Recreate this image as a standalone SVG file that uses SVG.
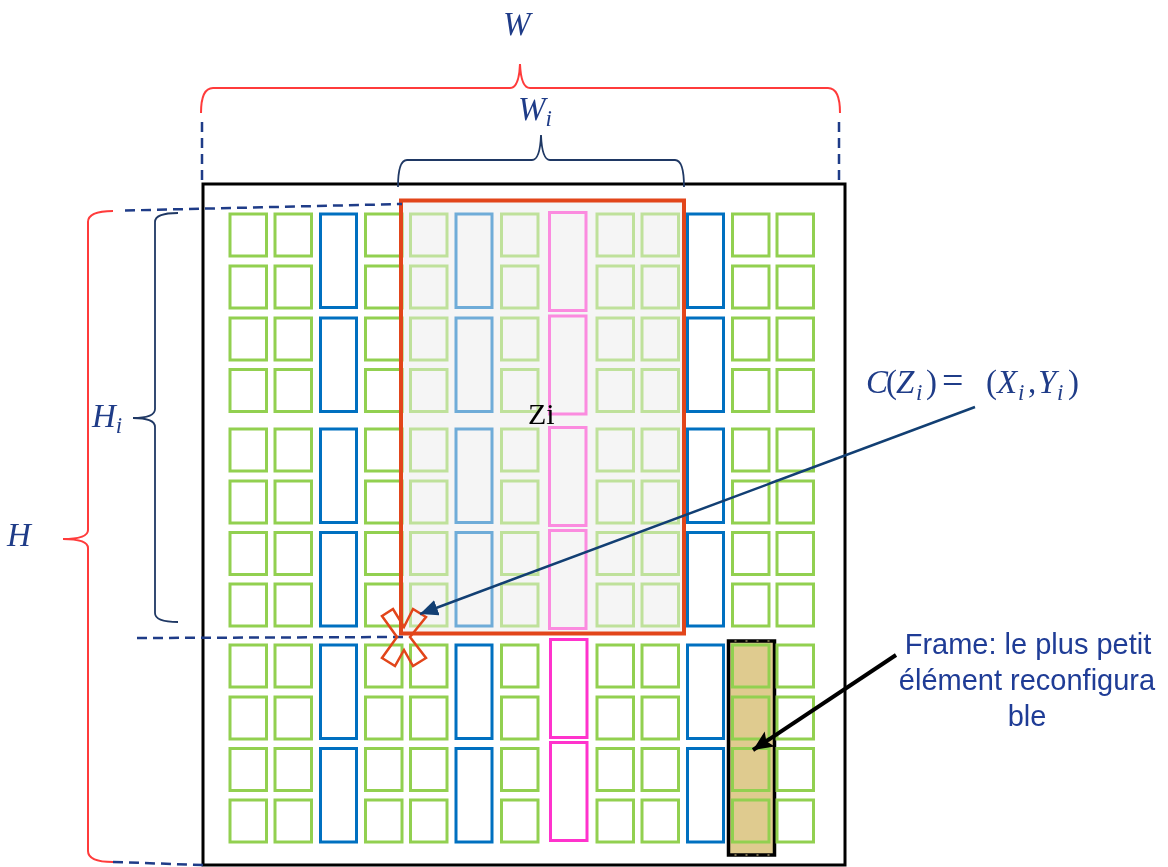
<svg xmlns="http://www.w3.org/2000/svg" xmlns:xlink="http://www.w3.org/1999/xlink" width="1168" height="867" viewBox="0 0 1168 867">
<style>
.g{fill:none;stroke:#92D050;stroke-width:3}
.b{fill:none;stroke:#0070C0;stroke-width:3}
.p{fill:none;stroke:#FF33CC;stroke-width:3}
.f{opacity:0.55}
.dash{fill:none;stroke:#1F3C88;stroke-width:2.5;stroke-dasharray:10 6}
.rb{fill:none;stroke:#FF3B3B;stroke-width:2}
.nb{fill:none;stroke:#1F3864;stroke-width:1.8}
.m{font-family:"Liberation Serif","DejaVu Serif",serif;font-style:italic;font-size:33px;fill:#1F3C88}
.u{font-style:normal}
.lbl{font-family:"Liberation Sans",Arial,sans-serif;font-size:29px;fill:#1F3C96;text-anchor:middle}
</style>
<defs>
<rect id="sq" width="36.5" height="42"/>
<rect id="tl" width="36" height="93.5"/>
<rect id="pk" width="36.5" height="98"/>
<marker id="ahN" markerUnits="userSpaceOnUse" markerWidth="22" markerHeight="18" refX="18" refY="8" orient="auto"><path d="M0,0 L18,8 L0,16 z" fill="#123F73"/></marker>
<marker id="ahK" markerUnits="userSpaceOnUse" markerWidth="24" markerHeight="20" refX="20" refY="9" orient="auto"><path d="M0,0 L20,9 L0,18 L4,9 z" fill="#000"/></marker>
</defs>
<rect width="1168" height="867" fill="#fff"/>
<g id="device"><rect x="203" y="184" width="642" height="681" fill="#fff" stroke="#000" stroke-width="3"/></g>
<g id="zone-bg"><rect x="401" y="200.5" width="283" height="433" fill="#F5F5F5"/></g>
<g id="frame">
<rect x="728.5" y="641" width="46" height="214" fill="#DFCB8F" stroke="#000" stroke-width="3.5"/>
<path d="M728.5,641 H774.5 M728.5,855 H774.5" stroke="#DFCB8F" stroke-width="1.2" stroke-dasharray="2 9" stroke-dashoffset="-6" fill="none"/>
</g>
<g id="block-a">
<g class="g">
<use xlink:href="#sq" x="230" y="214"/><use xlink:href="#sq" x="275" y="214"/><use xlink:href="#sq" x="365.5" y="214"/><use xlink:href="#sq" x="732.5" y="214"/><use xlink:href="#sq" x="777" y="214"/>
<use xlink:href="#sq" x="230" y="266"/><use xlink:href="#sq" x="275" y="266"/><use xlink:href="#sq" x="365.5" y="266"/><use xlink:href="#sq" x="732.5" y="266"/><use xlink:href="#sq" x="777" y="266"/>
<use xlink:href="#sq" x="230" y="318"/><use xlink:href="#sq" x="275" y="318"/><use xlink:href="#sq" x="365.5" y="318"/><use xlink:href="#sq" x="732.5" y="318"/><use xlink:href="#sq" x="777" y="318"/>
<use xlink:href="#sq" x="230" y="369.5"/><use xlink:href="#sq" x="275" y="369.5"/><use xlink:href="#sq" x="365.5" y="369.5"/><use xlink:href="#sq" x="732.5" y="369.5"/><use xlink:href="#sq" x="777" y="369.5"/>
</g>
<g class="g f">
<use xlink:href="#sq" x="410.5" y="214"/><use xlink:href="#sq" x="501.5" y="214"/><use xlink:href="#sq" x="597" y="214"/><use xlink:href="#sq" x="642" y="214"/>
<use xlink:href="#sq" x="410.5" y="266"/><use xlink:href="#sq" x="501.5" y="266"/><use xlink:href="#sq" x="597" y="266"/><use xlink:href="#sq" x="642" y="266"/>
<use xlink:href="#sq" x="410.5" y="318"/><use xlink:href="#sq" x="501.5" y="318"/><use xlink:href="#sq" x="597" y="318"/><use xlink:href="#sq" x="642" y="318"/>
<use xlink:href="#sq" x="410.5" y="369.5"/><use xlink:href="#sq" x="501.5" y="369.5"/><use xlink:href="#sq" x="597" y="369.5"/><use xlink:href="#sq" x="642" y="369.5"/>
</g>
<g class="b"><use xlink:href="#tl" x="320.5" y="214"/><use xlink:href="#tl" x="320.5" y="318"/><use xlink:href="#tl" x="687.5" y="214"/><use xlink:href="#tl" x="687.5" y="318"/></g>
<g class="b f"><use xlink:href="#tl" x="456" y="214"/><use xlink:href="#tl" x="456" y="318"/></g>
<g class="p f"><use xlink:href="#pk" x="549.5" y="212.5"/><use xlink:href="#pk" x="549.5" y="316"/></g>
</g>
<g id="block-b">
<g class="g">
<use xlink:href="#sq" x="230" y="429"/><use xlink:href="#sq" x="275" y="429"/><use xlink:href="#sq" x="365.5" y="429"/><use xlink:href="#sq" x="732.5" y="429"/><use xlink:href="#sq" x="777" y="429"/>
<use xlink:href="#sq" x="230" y="481"/><use xlink:href="#sq" x="275" y="481"/><use xlink:href="#sq" x="365.5" y="481"/><use xlink:href="#sq" x="732.5" y="481"/><use xlink:href="#sq" x="777" y="481"/>
<use xlink:href="#sq" x="230" y="532.5"/><use xlink:href="#sq" x="275" y="532.5"/><use xlink:href="#sq" x="365.5" y="532.5"/><use xlink:href="#sq" x="732.5" y="532.5"/><use xlink:href="#sq" x="777" y="532.5"/>
<use xlink:href="#sq" x="230" y="584"/><use xlink:href="#sq" x="275" y="584"/><use xlink:href="#sq" x="365.5" y="584"/><use xlink:href="#sq" x="732.5" y="584"/><use xlink:href="#sq" x="777" y="584"/>
</g>
<g class="g f">
<use xlink:href="#sq" x="410.5" y="429"/><use xlink:href="#sq" x="501.5" y="429"/><use xlink:href="#sq" x="597" y="429"/><use xlink:href="#sq" x="642" y="429"/>
<use xlink:href="#sq" x="410.5" y="481"/><use xlink:href="#sq" x="501.5" y="481"/><use xlink:href="#sq" x="597" y="481"/><use xlink:href="#sq" x="642" y="481"/>
<use xlink:href="#sq" x="410.5" y="532.5"/><use xlink:href="#sq" x="501.5" y="532.5"/><use xlink:href="#sq" x="597" y="532.5"/><use xlink:href="#sq" x="642" y="532.5"/>
<use xlink:href="#sq" x="410.5" y="584"/><use xlink:href="#sq" x="501.5" y="584"/><use xlink:href="#sq" x="597" y="584"/><use xlink:href="#sq" x="642" y="584"/>
</g>
<g class="b"><use xlink:href="#tl" x="320.5" y="429"/><use xlink:href="#tl" x="320.5" y="532.5"/><use xlink:href="#tl" x="687.5" y="429"/><use xlink:href="#tl" x="687.5" y="532.5"/></g>
<g class="b f"><use xlink:href="#tl" x="456" y="429"/><use xlink:href="#tl" x="456" y="532.5"/></g>
<g class="p f"><use xlink:href="#pk" x="549.5" y="427.5"/><use xlink:href="#pk" x="549.5" y="530.5"/></g>
</g>
<g id="block-c">
<g class="g">
<use xlink:href="#sq" x="230" y="645"/><use xlink:href="#sq" x="275" y="645"/><use xlink:href="#sq" x="365.5" y="645"/><use xlink:href="#sq" x="410.5" y="645"/><use xlink:href="#sq" x="501.5" y="645"/><use xlink:href="#sq" x="597" y="645"/><use xlink:href="#sq" x="642" y="645"/><use xlink:href="#sq" x="732.5" y="645"/><use xlink:href="#sq" x="777" y="645"/>
<use xlink:href="#sq" x="230" y="697"/><use xlink:href="#sq" x="275" y="697"/><use xlink:href="#sq" x="365.5" y="697"/><use xlink:href="#sq" x="410.5" y="697"/><use xlink:href="#sq" x="501.5" y="697"/><use xlink:href="#sq" x="597" y="697"/><use xlink:href="#sq" x="642" y="697"/><use xlink:href="#sq" x="732.5" y="697"/><use xlink:href="#sq" x="777" y="697"/>
<use xlink:href="#sq" x="230" y="748.5"/><use xlink:href="#sq" x="275" y="748.5"/><use xlink:href="#sq" x="365.5" y="748.5"/><use xlink:href="#sq" x="410.5" y="748.5"/><use xlink:href="#sq" x="501.5" y="748.5"/><use xlink:href="#sq" x="597" y="748.5"/><use xlink:href="#sq" x="642" y="748.5"/><use xlink:href="#sq" x="732.5" y="748.5"/><use xlink:href="#sq" x="777" y="748.5"/>
<use xlink:href="#sq" x="230" y="800"/><use xlink:href="#sq" x="275" y="800"/><use xlink:href="#sq" x="365.5" y="800"/><use xlink:href="#sq" x="410.5" y="800"/><use xlink:href="#sq" x="501.5" y="800"/><use xlink:href="#sq" x="597" y="800"/><use xlink:href="#sq" x="642" y="800"/><use xlink:href="#sq" x="732.5" y="800"/><use xlink:href="#sq" x="777" y="800"/>
</g>
<g class="b"><use xlink:href="#tl" x="320.5" y="645"/><use xlink:href="#tl" x="320.5" y="748.5"/><use xlink:href="#tl" x="456" y="645"/><use xlink:href="#tl" x="456" y="748.5"/><use xlink:href="#tl" x="687.5" y="645"/><use xlink:href="#tl" x="687.5" y="748.5"/></g>
<g class="p"><use xlink:href="#pk" x="550.5" y="639.5"/><use xlink:href="#pk" x="550.5" y="742.5"/></g>
</g>
<g id="zone-zi">
<rect x="401" y="200.5" width="283" height="433" fill="none" stroke="#E2451A" stroke-width="4"/>
<text x="528" y="424" font-family="Liberation Serif, serif" font-size="30" fill="#000">Zi</text>
</g>
<g id="dimensions">
<path class="dash" d="M202,122 V184 M839,122 V182 M125,210.5 L402,204 M137,638 L403,637 M113,862 L203,865"/>
<path class="rb" d="M201,113 Q201,88 213,88 L510,88 Q519,88 520,64 Q521,88 530,88 L828,88 Q840,88 840,113"/>
<path class="nb" d="M398,187 Q398,160 407,160 L532,160 Q540,160 541,135 Q542,160 550,160 L675,160 Q684,160 684,187"/>
<path class="rb" d="M113,211 Q88,211 88,222 L88,530 Q88,539 63,539 Q88,539 88,548 L88,851 Q88,862 113,862"/>
<path class="nb" d="M178,213 Q155,213 155,222 L155,409 Q155,418 133,418 Q155,418 155,427 L155,613 Q155,622 178,622"/>
<text class="m" x="503" y="35">W</text>
<text class="m" x="518" y="120">W<tspan font-size="23" dy="6">i</tspan></text>
<text class="m" x="92" y="427">H<tspan font-size="23" dy="6">i</tspan></text>
<text class="m" x="7" y="546">H</text>
</g>
<g id="corner-marker"><polygon points="382,616 393,609 404,627 413,609 426,617 410,637 426,658 413,666 404,650 395,666 382,658 397,637" fill="none" stroke="#E2451A" stroke-width="2.5" stroke-linejoin="miter"/></g>
<g id="connectors">
<line x1="975" y1="407" x2="420" y2="614" stroke="#123F73" stroke-width="2.5" marker-end="url(#ahN)"/>
<line x1="896" y1="655" x2="753" y2="750" stroke="#000" stroke-width="4" marker-end="url(#ahK)"/>
</g>
<g id="center-label">
<text class="m" y="393"><tspan x="866">C</tspan><tspan x="886" class="u">(</tspan><tspan x="896">Z</tspan><tspan x="916" y="400" font-size="23">i</tspan><tspan x="926" y="393" class="u">)</tspan><tspan x="942" class="u" font-size="38">=</tspan><tspan x="986" class="u">(</tspan><tspan x="997">X</tspan><tspan x="1018" y="400" font-size="23">i</tspan><tspan x="1028" y="393" class="u">,</tspan><tspan x="1038">Y</tspan><tspan x="1057" y="400" font-size="23">i</tspan><tspan x="1068" y="393" class="u">)</tspan></text>
</g>
<g id="frame-label">
<text class="lbl" x="1028" y="654">Frame: le plus petit</text>
<text class="lbl" x="1027" y="690">élément reconfigura</text>
<text class="lbl" x="1027" y="726">ble</text>
</g>
</svg>
